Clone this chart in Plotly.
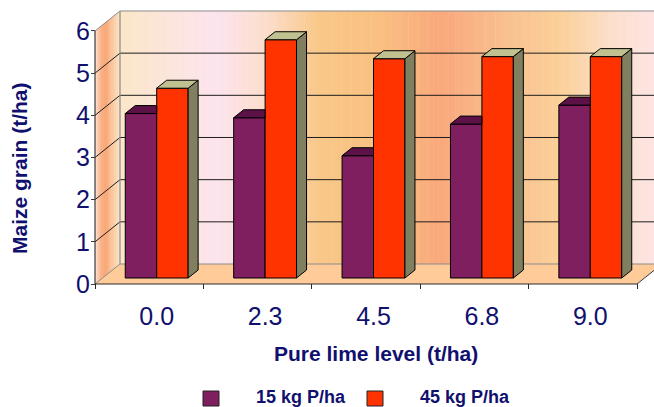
import plotly.graph_objects as go

# ---- data -------------------------------------------------------------
categories = ["0.0", "2.3", "4.5", "6.8", "9.0"]
yield_15kg = [3.9, 3.8, 2.9, 3.65, 4.1]
yield_45kg = [4.5, 5.65, 5.2, 5.25, 5.25]
series_names = ["15 kg P/ha", "45 kg P/ha"]
y_tick_values = [0, 1, 2, 3, 4, 5, 6]

# ---- styling ----------------------------------------------------------
NAVY = "#10106e"
PURPLE, PURPLE_TOP = "#7f1f5f", "#5c1246"
ORANGE, KHAKI_TOP, OLIVE_SIDE = "#ff3300", "#c0c090", "#808060"
GRID = "#1e1e1e"
EDGE = "#8a8a8a"
FLOOR = "#ffcc99"

# ---- page / axis geometry (pixels) -------------------------------------
W, H = 654, 407
ML, MR, MT, MB = 91, 0, 8, 118
PX_PER_X = 108.4          # one category step
PX_PER_Y = 42.17          # one t/ha
FRONT_X_PX = 95           # front-left corner of the box
FRONT_Y_PX = 284          # front zero line

X0 = -0.5 - (FRONT_X_PX - ML) / PX_PER_X
X1 = X0 + (W - ML - MR) / PX_PER_X
Y0 = -((H - MB) - FRONT_Y_PX) / PX_PER_Y
Y1 = Y0 + (H - MT - MB) / PX_PER_Y

# 3-D depth vector (front -> back) in data units
DX = 25 / PX_PER_X
DY = 20 / PX_PER_Y
YMAX = max(y_tick_values)
N_CAT = len(categories)

# bars sit between these depth fractions
F0, F1 = 0.3, 0.7
BAR_W = 0.29
BASE = F0 * DY
BDX, BDY = (F1 - F0) * DX, (F1 - F0) * DY
centers = [i + F0 * DX for i in range(N_CAT)]


def px_to_paper_x(px):
    return (px - ML) / (W - ML - MR)


def px_to_paper_y(py):
    return ((H - MB) - py) / (H - MT - MB)


def hex_to_rgb(h):
    h = h.lstrip("#")
    return tuple(int(h[k:k + 2], 16) for k in (0, 2, 4))


def gradient(stops, t):
    for (t0, c0), (t1, c1) in zip(stops, stops[1:]):
        if t0 <= t <= t1:
            a = 0 if t1 == t0 else (t - t0) / (t1 - t0)
            r0, r1 = hex_to_rgb(c0), hex_to_rgb(c1)
            r = [round(r0[k] + (r1[k] - r0[k]) * a) for k in range(3)]
            return "rgb({},{},{})".format(*r)
    return stops[-1][1]


back_stops = [
    (0.00, "#fbe6c8"), (0.18, "#fce4ee"), (0.28, "#fcdcc8"),
    (0.37, "#f9c888"), (0.48, "#f9c080"), (0.60, "#f9a87c"),
    (0.72, "#f9c090"), (0.82, "#fbd098"), (0.92, "#fce0cc"),
    (1.00, "#fde4e4"),
]
side_stops = [
    (0.00, "#fde2dc"), (0.25, "#f9b080"), (0.45, "#f8a878"),
    (0.70, "#fbc9a0"), (1.00, "#fbe3c8"),
]

shapes = []

# back wall (gradient strips)
XL, XR = -0.5 + DX, X1 + 0.02
n_strips = 160
for j in range(n_strips):
    xa = XL + (XR - XL) * j / n_strips
    xb = XL + (XR - XL) * (j + 1) / n_strips + 0.004
    shapes.append(dict(type="rect", xref="x", yref="y", layer="below",
                       x0=xa, x1=xb, y0=DY, y1=YMAX + DY, line_width=0,
                       fillcolor=gradient(back_stops, (j + 0.5) / n_strips)))

# left side wall (gradient strips, parallelograms)
n_side = 14
for j in range(n_side):
    ta, tb = j / n_side, min(1.0, (j + 1) / n_side + 0.02)
    xa, xb = -0.5 + DX * ta, -0.5 + DX * tb
    ya, yb = DY * ta, DY * tb
    path = (f"M{xa},{ya} L{xb},{yb} L{xb},{yb + YMAX} "
            f"L{xa},{ya + YMAX} Z")
    shapes.append(dict(type="path", xref="x", yref="y", layer="below",
                       path=path, line_width=0,
                       fillcolor=gradient(side_stops, (j + 0.5) / n_side)))

# floor
x_end = N_CAT - 0.5
shapes.append(dict(type="path", xref="x", yref="y", layer="below",
                   path=f"M-0.5,0 L{x_end},0 L{x_end + DX},{DY} L{XL},{DY} Z",
                   fillcolor=FLOOR, line_width=0))

# gridlines on back and side walls
for k in y_tick_values:
    col = EDGE if k in (0, YMAX) else GRID
    shapes.append(dict(type="line", xref="x", yref="y", layer="below",
                       x0=XL, x1=XR, y0=k + DY, y1=k + DY,
                       line=dict(color=col, width=1)))
    shapes.append(dict(type="line", xref="x", yref="y", layer="below",
                       x0=-0.5, x1=XL, y0=k, y1=k + DY,
                       line=dict(color=col, width=1)))

# back-wall left edge
shapes.append(dict(type="line", xref="x", yref="y", layer="below",
                   x0=XL, x1=XL, y0=DY, y1=YMAX + DY,
                   line=dict(color=EDGE, width=1.2)))
# front value axis and category axis
shapes.append(dict(type="line", xref="x", yref="y", layer="below",
                   x0=-0.5, x1=-0.5, y0=0, y1=YMAX,
                   line=dict(color="#3a3a3a", width=1.2)))
shapes.append(dict(type="line", xref="x", yref="y", layer="below",
                   x0=-0.5, x1=x_end, y0=0, y1=0,
                   line=dict(color="#2a2a2a", width=1.2)))
shapes.append(dict(type="line", xref="x", yref="y", layer="below",
                   x0=x_end, x1=x_end + DX, y0=0, y1=DY,
                   line=dict(color="#3a3a3a", width=1)))

# ---- bars -------------------------------------------------------------
fig = go.Figure()

x15 = [c - BAR_W / 2 for c in centers]
x45 = [c + BAR_W / 2 for c in centers]

fig.add_trace(go.Bar(
    x=x15, y=yield_15kg, base=[BASE] * N_CAT, width=BAR_W,
    name=series_names[0], marker=dict(color=PURPLE, line=dict(color="black", width=1)),
    showlegend=False, hoverinfo="skip"))
fig.add_trace(go.Bar(
    x=x45, y=yield_45kg, base=[BASE] * N_CAT, width=BAR_W,
    name=series_names[1], marker=dict(color=ORANGE, line=dict(color="black", width=1)),
    showlegend=False, hoverinfo="skip"))


def polys_trace(polys, color):
    xs, ys = [], []
    for p in polys:
        for (px, py) in p + [p[0]]:
            xs.append(px)
            ys.append(py)
        xs.append(None)
        ys.append(None)
    return go.Scatter(x=xs, y=ys, mode="lines", fill="toself", fillcolor=color,
                      line=dict(color="black", width=1), showlegend=False,
                      hoverinfo="skip")


# top of the short (15 kg) bars: only the part not hidden by the 45 kg bar
top15 = []
for c, v in zip(centers, yield_15kg):
    yt = BASE + v
    top15.append([(c - BAR_W, yt), (c, yt), (c, yt + BDY), (c - BAR_W + BDX, yt + BDY)])

top45, side45 = [], []
for c, v in zip(centers, yield_45kg):
    yt = BASE + v
    top45.append([(c, yt), (c + BAR_W, yt), (c + BAR_W + BDX, yt + BDY), (c + BDX, yt + BDY)])
    side45.append([(c + BAR_W, BASE), (c + BAR_W, yt),
                   (c + BAR_W + BDX, yt + BDY), (c + BAR_W + BDX, BASE + BDY)])

fig.add_trace(polys_trace(top15, PURPLE_TOP))
fig.add_trace(polys_trace(side45, OLIVE_SIDE))
fig.add_trace(polys_trace(top45, KHAKI_TOP))

# invisible trace so the label axis is drawn
fig.add_trace(go.Scatter(x=centers, y=[None] * N_CAT, xaxis="x2",
                         showlegend=False, hoverinfo="skip"))

# ---- titles & legend --------------------------------------------------
annotations = [
    dict(text="<b>Pure lime level (t/ha)</b>", xref="paper", yref="paper",
         x=px_to_paper_x(376), y=px_to_paper_y(353), showarrow=False,
         xanchor="center", yanchor="middle",
         font=dict(family="Liberation Sans, Arial", size=21, color=NAVY)),
    dict(text="<b>Maize grain (t/ha)</b>", xref="paper", yref="paper",
         x=px_to_paper_x(20), y=px_to_paper_y(168), showarrow=False,
         textangle=-90, xanchor="center", yanchor="middle",
         font=dict(family="Liberation Sans, Arial", size=21, color=NAVY)),
]
legend_items = [(series_names[0], PURPLE, 203, 254), (series_names[1], ORANGE, 367, 418)]
for name, col, sx, tx in legend_items:
    shapes.append(dict(type="rect", xref="paper", yref="paper",
                       x0=px_to_paper_x(sx), x1=px_to_paper_x(sx + 16),
                       y0=px_to_paper_y(406), y1=px_to_paper_y(391),
                       fillcolor=col, line=dict(color="#222222", width=1)))
    annotations.append(dict(text=f"<b>{name}</b>", xref="paper", yref="paper",
                            x=px_to_paper_x(tx), y=px_to_paper_y(397),
                            showarrow=False, xanchor="left", yanchor="middle",
                            font=dict(family="Liberation Sans, Arial", size=18,
                                      color=NAVY)))

tick_font = dict(family="Liberation Sans, Arial", size=25, color=NAVY)

fig.update_layout(
    width=W, height=H,
    margin=dict(l=ML, r=MR, t=MT, b=MB, pad=0),
    paper_bgcolor="white", plot_bgcolor="white",
    barmode="overlay", showlegend=False, hovermode=False,
    shapes=shapes, annotations=annotations,
    xaxis=dict(range=[X0, X1], showgrid=False, zeroline=False, showline=False,
               tickvals=[i - 0.5 for i in range(N_CAT + 1)],
               ticks="inside", ticklen=5, tickcolor="#2a2a2a", tickwidth=1,
               showticklabels=False, fixedrange=True),
    xaxis2=dict(range=[X0, X1], overlaying="x", anchor="y", side="bottom",
                showgrid=False, zeroline=False, showline=False, ticks="",
                tickvals=centers, ticktext=categories, tickfont=tick_font,
                ticklabelstandoff=10, fixedrange=True),
    yaxis=dict(range=[Y0, Y1], showgrid=False, zeroline=False, showline=False,
               tickvals=y_tick_values, ticks="inside", ticklen=4,
               tickcolor="#3a3a3a", tickwidth=1, tickfont=tick_font,
               fixedrange=True),
)

fig.write_html("out.html")
